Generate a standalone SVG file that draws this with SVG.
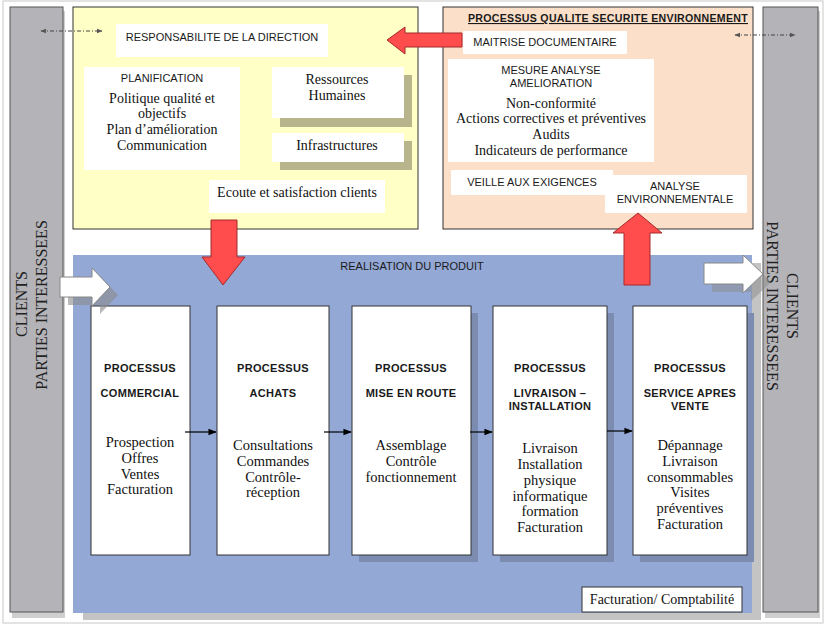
<svg xmlns="http://www.w3.org/2000/svg" width="826" height="625" viewBox="0 0 826 625">
<defs>
<style>
.sans{font-family:"Liberation Sans",Arial,sans-serif;font-size:11px;fill:#1a1a1a;text-anchor:middle}
.bold{font-family:"Liberation Sans",Arial,sans-serif;font-size:11px;font-weight:bold;fill:#1a1a1a;text-anchor:middle;letter-spacing:0.3px}
.serif{font-family:"Liberation Serif","Times New Roman",serif;font-size:14px;fill:#111;text-anchor:middle}
.serif14{font-family:"Liberation Serif","Times New Roman",serif;font-size:14.5px;fill:#111;text-anchor:middle}
.side{font-family:"Liberation Serif","Times New Roman",serif;font-size:16px;fill:#222;text-anchor:middle}
.wbox{fill:#fff;stroke:none}
.pbox{fill:#fff;stroke:#333;stroke-width:1}
.pshadow{fill:#7b8cb0}
.red{fill:#ff4c4c;stroke:#a52a2a;stroke-width:1}
.conn{stroke:#000;stroke-width:1.2;fill:none}
.dash{stroke:#444;stroke-width:1;stroke-dasharray:4,2,1,2;fill:none}
</style>
<marker id="ah" viewBox="0 0 10 10" refX="9" refY="5" markerWidth="7" markerHeight="7" orient="auto">
<path d="M0,1 L10,5 L0,9 z" fill="#000"/>
</marker>
<marker id="dh" viewBox="0 0 10 10" refX="9" refY="5" markerWidth="6" markerHeight="6" orient="auto-start-reverse">
<path d="M0,1 L10,5 L0,9 z" fill="#555"/>
</marker>
</defs>
<rect width="826" height="625" fill="#fff"/>
<rect x="3" y="1" width="820" height="622" fill="none" stroke="#c8c8c8" stroke-width="1"/>

<!-- side bars -->
<g id="left-side">
<rect x="12" y="11" width="53" height="607" fill="#cfcfcf"/>
<rect x="10" y="7" width="53" height="605" fill="#b4b4b8" stroke="#555" stroke-width="1"/>
<text class="side" transform="translate(27,304) rotate(-90)">CLIENTS</text>
<text class="side" transform="translate(47,305) rotate(-90)">PARTIES INTERESSEES</text>
</g>
<g id="right-side">
<rect x="765" y="11" width="55" height="607" fill="#cfcfcf"/>
<rect x="763" y="7" width="55" height="605" fill="#b4b4b8" stroke="#555" stroke-width="1"/>
<text class="side" transform="translate(787,306) rotate(90)">CLIENTS</text>
<text class="side" transform="translate(767,306) rotate(90)">PARTIES INTERESSEES</text>
</g>

<!-- yellow direction box -->
<g id="direction">
<rect x="73" y="7" width="345" height="222" fill="#ffffc6" stroke="#333" stroke-width="1"/>
<rect class="wbox" x="116" y="24" width="212" height="33"/>
<text class="sans" x="222" y="41">RESPONSABILITE DE LA DIRECTION</text>
<rect class="wbox" x="84" y="67" width="156" height="103"/>
<text class="sans" x="162" y="82">PLANIFICATION</text>
<text class="serif" x="162" y="103">Politique qualité et</text>
<text class="serif" x="162" y="118">objectifs</text>
<text class="serif" x="162" y="134">Plan d’amélioration</text>
<text class="serif" x="162" y="150">Communication</text>
<rect x="280" y="75" width="132" height="52" fill="#b8b48c"/>
<rect class="wbox" x="272" y="67" width="132" height="51"/>
<text class="serif" x="337" y="84">Ressources</text>
<text class="serif" x="337" y="100">Humaines</text>
<rect x="280" y="141" width="132" height="29" fill="#b8b48c"/>
<rect class="wbox" x="272" y="133" width="132" height="29"/>
<text class="serif" x="337" y="150">Infrastructures</text>
<rect class="wbox" x="209" y="180" width="176" height="33"/>
<text class="serif" x="297" y="197">Ecoute et satisfaction clients</text>
</g>

<!-- orange QSE box -->
<g id="qse">
<rect x="443" y="7" width="310" height="222" fill="#fbdfc9" stroke="#333" stroke-width="1"/>
<text class="bold" x="608" y="22" text-decoration="underline" letter-spacing="0" textLength="280" lengthAdjust="spacingAndGlyphs">PROCESSUS QUALITE SECURITE ENVIRONNEMENT</text>
<rect class="wbox" x="463" y="31" width="164" height="23"/>
<text class="sans" x="545" y="46">MAITRISE DOCUMENTAIRE</text>
<rect class="wbox" x="448" y="59" width="206" height="103"/>
<text class="sans" x="551" y="74">MESURE ANALYSE</text>
<text class="sans" x="551" y="87">AMELIORATION</text>
<text class="serif" x="551" y="108">Non-conformité</text>
<text class="serif" x="551" y="123">Actions correctives et préventives</text>
<text class="serif" x="551" y="139">Audits</text>
<text class="serif" x="551" y="155">Indicateurs de performance</text>
<rect class="wbox" x="451" y="170" width="162" height="25"/>
<text class="sans" x="532" y="186">VEILLE AUX EXIGENCES</text>
<rect class="wbox" x="605" y="175" width="142" height="38"/>
<text class="sans" x="675" y="190">ANALYSE</text>
<text class="sans" x="675" y="203">ENVIRONNEMENTALE</text>
</g>

<!-- blue realisation area -->
<g id="realisation">
<rect x="83" y="263" width="678" height="357" fill="#c4c4c4"/>
<rect x="73" y="255" width="679" height="358" fill="#94a8d6"/>
<text class="sans" x="412" y="270">REALISATION DU PRODUIT</text>
</g>

<g id="p-commercial">
<rect class="pbox" x="91" y="306" width="99" height="249"/>
<text class="bold" x="140" y="372">PROCESSUS</text>
<text class="bold" x="140" y="397">COMMERCIAL</text>
<text class="serif14" x="140" y="447">Prospection</text>
<text class="serif14" x="140" y="463">Offres</text>
<text class="serif14" x="140" y="479">Ventes</text>
<text class="serif14" x="140" y="494">Facturation</text>
</g>
<g id="p-achats">
<rect class="pbox" x="217" y="306" width="112" height="249"/>
<text class="bold" x="273" y="372">PROCESSUS</text>
<text class="bold" x="273" y="397">ACHATS</text>
<text class="serif14" x="273" y="450">Consultations</text>
<text class="serif14" x="273" y="466">Commandes</text>
<text class="serif14" x="273" y="482">Contrôle-</text>
<text class="serif14" x="273" y="497">réception</text>
</g>
<g id="p-miseenroute">
<rect class="pshadow" x="359" y="313" width="119" height="249"/>
<rect class="pbox" x="352" y="306" width="119" height="249"/>
<text class="bold" x="411" y="372">PROCESSUS</text>
<text class="bold" x="411" y="397">MISE EN ROUTE</text>
<text class="serif14" x="411" y="450">Assemblage</text>
<text class="serif14" x="411" y="466">Contrôle</text>
<text class="serif14" x="411" y="482">fonctionnement</text>
</g>
<g id="p-livraison">
<rect class="pshadow" x="500" y="313" width="114" height="249"/>
<rect class="pbox" x="493" y="306" width="114" height="249"/>
<text class="bold" x="550" y="372">PROCESSUS</text>
<text class="bold" x="550" y="397">LIVRAISON –</text>
<text class="bold" x="550" y="410">INSTALLATION</text>
<text class="serif14" x="550" y="453">Livraison</text>
<text class="serif14" x="550" y="469">Installation</text>
<text class="serif14" x="550" y="485">physique</text>
<text class="serif14" x="550" y="501">informatique</text>
<text class="serif14" x="550" y="516">formation</text>
<text class="serif14" x="550" y="532">Facturation</text>
</g>
<g id="p-sav">
<rect class="pshadow" x="640" y="313" width="114" height="249"/>
<rect class="pbox" x="633" y="306" width="114" height="249"/>
<text class="bold" x="690" y="372">PROCESSUS</text>
<text class="bold" x="690" y="397">SERVICE APRES</text>
<text class="bold" x="690" y="410">VENTE</text>
<text class="serif14" x="690" y="450">Dépannage</text>
<text class="serif14" x="690" y="466">Livraison</text>
<text class="serif14" x="690" y="482">consommables</text>
<text class="serif14" x="690" y="497">Visites</text>
<text class="serif14" x="690" y="513">préventives</text>
<text class="serif14" x="690" y="529">Facturation</text>
</g>

<g id="facturation">
<rect x="582" y="587" width="160" height="25" fill="#fff" stroke="#333" stroke-width="1"/>
<text class="serif" x="662" y="604" font-size="12.5">Facturation/ Comptabilité</text>
</g>

<!-- connectors -->
<g id="connectors">
<line class="conn" x1="185" y1="432" x2="216" y2="432" marker-end="url(#ah)"/>
<line class="conn" x1="324" y1="432" x2="351" y2="432" marker-end="url(#ah)"/>
<line class="conn" x1="470" y1="432" x2="492" y2="432" marker-end="url(#ah)"/>
<line class="conn" x1="607" y1="431" x2="632" y2="431" marker-end="url(#ah)"/>
<line class="dash" x1="41" y1="31" x2="102" y2="31" marker-start="url(#dh)" marker-end="url(#dh)"/>
<line class="dash" x1="735" y1="35" x2="795" y2="35" marker-start="url(#dh)" marker-end="url(#dh)"/>
<!-- red arrows -->
<path class="red" d="M462,33 L405,33 L405,27 L387,40 L405,54 L405,47 L462,47 z"/>
<path class="red" d="M211,220 L237,220 L237,257 L245,257 L223,285 L202,257 L211,257 z"/>
<path class="red" d="M624,285 L650,285 L650,233 L662,233 L638,213 L613,233 L624,233 z"/>
<!-- white arrows -->
<path d="M68,285 L100,285 L100,276 L118,295 L100,314 L100,305 L68,305 z" fill="#8a8a8a" opacity="0.6"/>
<path d="M60,277 L92,277 L92,268 L110,287 L92,306 L92,297 L60,297 z" fill="#fff" stroke="#888" stroke-width="1"/>
<path d="M712,271 L751,271 L751,263 L771,282 L751,301 L751,292 L712,292 z" fill="#8a8a8a" opacity="0.5"/>
<path d="M704,263 L743,263 L743,255 L763,274 L743,293 L743,284 L704,284 z" fill="#fff" stroke="#888" stroke-width="1"/>
</g>
</svg>
